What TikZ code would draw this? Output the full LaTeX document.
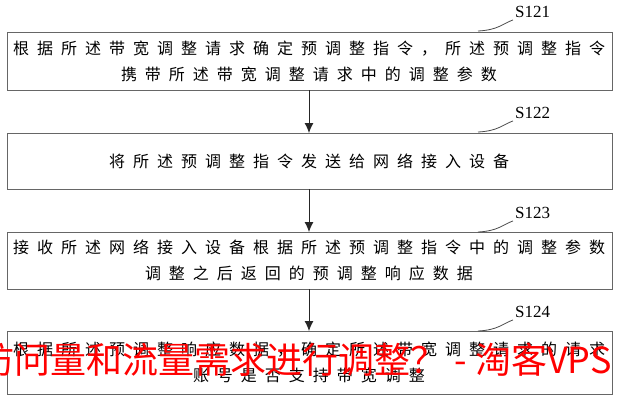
\documentclass[tikz,border=0pt]{standalone}
\usetikzlibrary{arrows.meta}
\usepackage{fontspec}
\setmainfont{Liberation Serif}
\newfontfamily\cjk[LetterSpace=50]{Noto Sans CJK SC}
\newfontfamily\wm{Noto Sans CJK SC}
\begin{document}
\begin{tikzpicture}[x=1pt,y=-1pt]
\tikzset{box/.style={draw=black!60,line width=0.8pt},
 txt/.style={font=\cjk\fontsize{16}{26}\selectfont,align=center,inner sep=0},
 lbl/.style={font=\fontsize{17}{17}\selectfont,anchor=west,inner sep=0},
 arr/.style={draw=black!85,line width=0.9pt,-{Latex[length=10pt,width=9pt]}}}
\useasboundingbox (0,0) rectangle (620,400);
\fill[white] (0,0) rectangle (620,400);
\draw[box] (7,32) rectangle (612,90);
\draw[box] (7,133) rectangle (612,189);
\draw[box] (7,232) rectangle (612,289);
\draw[box] (7,331) rectangle (612,394);
\node[txt] (t1) at (309,61) {根据所述带宽调整请求确定预调整指令，所述预调整指令\\携带所述带宽调整请求中的调整参数};
\node[txt] (t2) at (309,161) {将所述预调整指令发送给网络接入设备};
\node[txt] (t3) at (309,260) {接收所述网络接入设备根据所述预调整指令中的调整参数\\调整之后返回的预调整响应数据};
\node[txt] (t4) at (309,362) {根据所述预调整响应数据，确定所述带宽调整请求的请求\\账号是否支持带宽调整};
\coordinate (a1) at (309,90); \coordinate (a2) at (309,133);
\coordinate (a3) at (309,189); \coordinate (a4) at (309,232);
\coordinate (a5) at (309,289); \coordinate (a6) at (309,331);
\draw[arr] (a1) -- (a2); \draw[arr] (a3) -- (a4); \draw[arr] (a5) -- (a6);
\foreach \n/\y in {121/12,122/113,123/213,124/312}{
 \node[lbl] (s\n) at (515,\y) {S\n};
 \draw[black!70,line width=0.8pt] (478,\y+19) .. controls (498,\y+18) and (502,\y+12) .. ([xshift=-2pt,yshift=-2pt]s\n.south west);
}
\begin{scope}
\clip (0,0) rectangle (620,400);
\node[font=\wm\fontsize{36}{36}\selectfont,text=red,anchor=east,inner sep=0] (w) at (612,360) {访问量和流量需求进行调整？ - 淘客VPS};
\end{scope}
\end{tikzpicture}
\end{document}
